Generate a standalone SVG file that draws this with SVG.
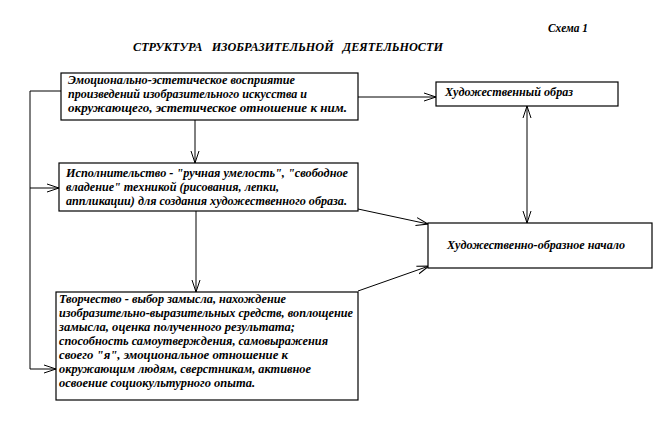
<svg xmlns="http://www.w3.org/2000/svg" width="660" height="428" viewBox="0 0 660 428">
<style>
.box{fill:#fff;stroke:#000;stroke-width:1.2}
.t{font-family:"Liberation Serif","Times New Roman",serif;font-weight:bold;font-style:italic;font-size:12.5px;fill:#000}
.c{fill:none;stroke:#000;stroke-width:1}
</style>
<defs>
<marker id="a" viewBox="0 0 12 10" refX="12" refY="5" markerWidth="12" markerHeight="10" markerUnits="userSpaceOnUse" orient="auto-start-reverse">
<path d="M0,1 L12,5 L0,9" fill="none" stroke="#000" stroke-width="1"/>
</marker>
</defs>
<rect width="660" height="428" fill="#fff"/>
<text class="t" x="548" y="32" style="font-size:12px" textLength="40" lengthAdjust="spacingAndGlyphs">Схема 1</text>
<text class="t" x="133" y="51" style="font-size:12px" xml:space="preserve" textLength="310" lengthAdjust="spacingAndGlyphs">СТРУКТУРА   ИЗОБРАЗИТЕЛЬНОЙ   ДЕЯТЕЛЬНОСТИ</text>
<g id="connectors">
<polyline class="c" points="61,91 30,91 30,369 56,369" marker-end="url(#a)"/>
<line class="c" x1="30" y1="188" x2="59" y2="188" marker-end="url(#a)"/>
<line class="c" x1="195" y1="120" x2="195" y2="163" marker-end="url(#a)"/>
<line class="c" x1="196" y1="211" x2="196" y2="292" marker-end="url(#a)"/>
<line class="c" x1="358" y1="97" x2="436" y2="97" marker-end="url(#a)"/>
<line class="c" x1="527" y1="106" x2="527" y2="223" marker-start="url(#a)" marker-end="url(#a)"/>
<line class="c" x1="358" y1="209" x2="428" y2="224" marker-end="url(#a)"/>
<line class="c" x1="358" y1="291" x2="429" y2="266" marker-end="url(#a)"/>
</g>
<g id="n1">
<rect class="box" x="61" y="73" width="297" height="47"/>
<text class="t" x="68" y="84" textLength="227" lengthAdjust="spacingAndGlyphs">Эмоционально-эстетическое восприятие</text>
<text class="t" x="68" y="98" textLength="239" lengthAdjust="spacingAndGlyphs">произведений изобразительного искусства и</text>
<text class="t" x="68" y="112" textLength="279" lengthAdjust="spacingAndGlyphs">окружающего, эстетическое отношение к ним.</text>
</g>
<g id="n2">
<rect class="box" x="59" y="163" width="299" height="48"/>
<text class="t" x="66" y="177" textLength="282" lengthAdjust="spacingAndGlyphs">Исполнительство - "ручная умелость", "свободное</text>
<text class="t" x="66" y="191" textLength="213" lengthAdjust="spacingAndGlyphs">владение" техникой (рисования, лепки,</text>
<text class="t" x="66" y="205" textLength="281" lengthAdjust="spacingAndGlyphs">аппликации) для создания художественного образа.</text>
</g>
<g id="n3">
<rect class="box" x="56" y="292" width="302" height="108"/>
<text class="t" x="59" y="303" textLength="227" lengthAdjust="spacingAndGlyphs">Творчество - выбор замысла, нахождение</text>
<text class="t" x="59" y="317" textLength="294" lengthAdjust="spacingAndGlyphs">изобразительно-выразительных средств, воплощение</text>
<text class="t" x="59" y="331" textLength="236" lengthAdjust="spacingAndGlyphs">замысла, оценка полученного результата;</text>
<text class="t" x="59" y="345" textLength="269" lengthAdjust="spacingAndGlyphs">способность самоутверждения, самовыражения</text>
<text class="t" x="59" y="359" textLength="229" lengthAdjust="spacingAndGlyphs">своего "я", эмоциональное отношение к</text>
<text class="t" x="59" y="373" textLength="252" lengthAdjust="spacingAndGlyphs">окружающим людям, сверстникам, активное</text>
<text class="t" x="59" y="387" textLength="196" lengthAdjust="spacingAndGlyphs">освоение социокультурного опыта.</text>
</g>
<g id="n4">
<rect class="box" x="436" y="82" width="182" height="24"/>
<text class="t" x="445" y="96" textLength="128" lengthAdjust="spacingAndGlyphs">Художественный образ</text>
</g>
<g id="n5">
<rect class="box" x="428" y="223" width="224" height="45"/>
<text class="t" x="447" y="249" textLength="178" lengthAdjust="spacingAndGlyphs">Художественно-образное начало</text>
</g>
</svg>
